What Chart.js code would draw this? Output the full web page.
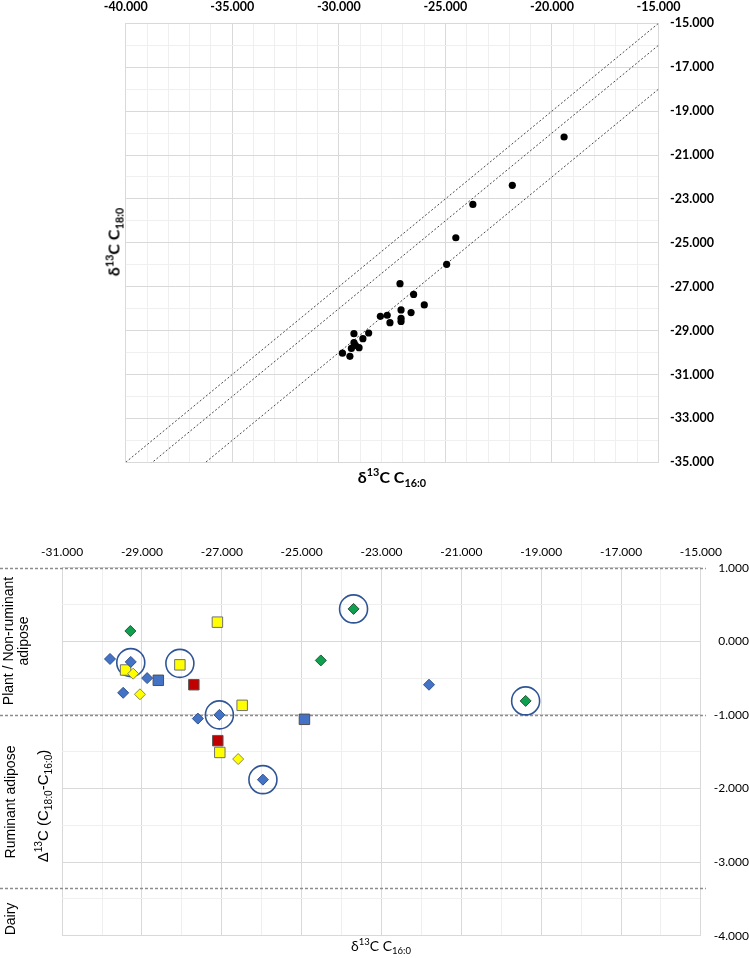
<!DOCTYPE html>
<html>
<head>
<meta charset="utf-8">
<script src="https://cdn.jsdelivr.net/npm/chart.js@4.4.1/dist/chart.umd.min.js"></script>
<style>
  html, body { margin:0; padding:0; background:#fff; }
  #wrap { position:relative; width:749px; height:958px; overflow:hidden; }
  canvas { position:absolute; left:0; }
  .lbl { position:absolute; white-space:nowrap; transform:translate(-50%,-50%); color:#000; line-height:1; text-align:center; }
  .rot { transform:translate(-50%,-50%) rotate(-90deg); }
  .b { font:bold 16px Lato, "Noto Sans", sans-serif; }
  .a { font:14px "Liberation Sans", Arial, sans-serif; }
  .c { font:14px Lato, "Noto Sans", sans-serif; }
  sup, sub { font-size:68%; line-height:0; }
</style>
</head>
<body>
<div id="wrap">
  <canvas id="c1" width="749" height="495" style="top:0"></canvas>
  <canvas id="c2" width="749" height="463" style="top:495px"></canvas>

  <div class="lbl rot b" style="left:113px;top:242px">δ<sup>13</sup>C C<sub>18:0</sub></div>
  <div class="lbl b" style="left:392px;top:476px">δ<sup>13</sup>C C<sub>16:0</sub></div>

  <div class="lbl rot a" style="left:16px;top:641px;line-height:15px">Plant / Non-ruminant<br>adipose</div>
  <div class="lbl rot a" style="left:10px;top:802px">Ruminant adipose</div>
  <div class="lbl rot a" style="left:10px;top:919px">Dairy</div>
  <div class="lbl rot a" style="left:42px;top:806px;font-size:15px">Δ<sup>13</sup>C (C<sub>18:0</sub>-C<sub>16:0</sub>)</div>
  <div class="lbl c" style="left:381px;top:945px">δ<sup>13</sup>C C<sub>16:0</sub></div>
</div>

<script>
/* ── chart 1: δ13C C18:0 vs δ13C C16:0 ── */
const c16 = [-19.43,-21.86,-23.71,-24.51,-24.94,-27.13,-26.49,-25.99,-27.08,-26.61,-28.05,-27.73,
             -27.08,-27.60,-27.08,-29.29,-28.60,-28.87,-29.29,-29.22,-29.41,-29.05,-29.83,-29.48];
const c18 = [-20.18,-22.38,-23.25,-24.77,-25.98,-26.86,-27.35,-27.83,-28.06,-28.18,-28.35,-28.30,
             -28.44,-28.64,-28.58,-29.14,-29.11,-29.37,-29.55,-29.67,-29.81,-29.78,-30.03,-30.17];
const refX     = [-40, -15];
const refUpper = [-35, -15];
const refMid   = [-36, -16];
const refLow   = [-38, -18];

/* ── chart 2: Δ13C vs δ13C C16:0 ── */
const blueDiaX   = [-29.80,-29.28,-28.87,-29.47,-27.60,-27.06,-25.97,-21.81];
const blueDiaY   = [-0.24,-0.28,-0.50,-0.70,-1.05,-1.00,-1.88,-0.59];
const greenDiaX  = [-29.29,-23.70,-24.52,-19.39];
const greenDiaY  = [0.14,0.44,-0.26,-0.81];
const yellowDiaX = [-29.22,-29.05,-26.59];
const yellowDiaY = [-0.44,-0.72,-1.60];
const yellowSqX  = [-27.11,-29.41,-28.05,-26.49,-27.05];
const yellowSqY  = [0.26,-0.39,-0.32,-0.87,-1.51];
const blueSqX    = [-28.59,-24.93];
const blueSqY    = [-0.53,-1.06];
const redSqX     = [-27.70,-27.10];
const redSqY     = [-0.59,-1.35];
const circledX   = [-29.28,-28.05,-27.06,-25.97,-23.70,-19.39];
const circledY   = [-0.29,-0.30,-1.00,-1.88,0.44,-0.81];
const zoneBounds = [1, -1, -3.35];

const MAJ = '#d9d9d9', MIN = '#efefef';
const FONT = 'Lato, "Noto Sans", sans-serif';
const pts = (xs, ys) => xs.map((x, i) => ({ x, y: ys[i] }));
const near = (a, b) => Math.abs(a - b) < 1e-6;
const every = (v, base, step) => near(((v - base) / step), Math.round((v - base) / step));

function axis(pos, min, max, step, labelStep, size, pad, bold, fit, align) {
  const major = v => every(v, min, labelStep);
  return {
    type:'linear', position:pos, min, max,
    border:{ display:true, color:MAJ },
    grid:{ drawTicks:false, color:c => major(c.tick.value) ? MAJ : MIN },
    ticks:{ stepSize:step, autoSkip:false, maxRotation:0, padding:pad, color:'#000',
            crossAlign:align || 'near',
            font:{ family:FONT, size, weight: bold ? 'bold' : 'normal' },
            callback:v => major(v) ? v.toFixed(3) : '' },
    afterFit:fit
  };
}

function refLine(ys) {
  return { data:pts(refX, ys), showLine:true, borderColor:'#4a4a4a', borderWidth:1,
           borderDash:[2,2], pointRadius:0, fill:false };
}

new Chart(document.getElementById('c1'), {
  type:'scatter',
  data:{ datasets:[
    { data:pts(c16, c18), pointRadius:3.6, pointBackgroundColor:'#000', pointBorderWidth:0 },
    refLine(refUpper), refLine(refMid), refLine(refLow)
  ]},
  options:{
    responsive:false, animation:false,
    layout:{ padding:{ left:125.7, right:0, top:0, bottom:32.7 } },
    plugins:{ legend:{ display:false }, tooltip:{ enabled:false } },
    scales:{
      x:axis('top', -40, -15, 1, 5, 12.5, 8.5, true, s => { s.height = 23.3; }),
      y:axis('right', -35, -15, 1, 2, 12.5, 11.5, true, s => { s.width = 90.5; })
    }
  }
});

/* dashed zone separators, running past the plot on both sides */
const zonePlugin = {
  id:'zones',
  beforeDatasetsDraw(chart) {
    const { ctx, chartArea, scales } = chart;
    ctx.save();
    ctx.strokeStyle = '#8c8c8c';
    ctx.lineWidth = 1.5;
    ctx.setLineDash([3, 2]);
    zoneBounds.forEach(v => {
      const y = Math.round(scales.y.getPixelForValue(v)) + 0.5;
      ctx.beginPath();
      ctx.moveTo(0, y);
      ctx.lineTo(chartArea.right + 5, y);
      ctx.stroke();
    });
    ctx.restore();
  }
};

const mk = (xs, ys, style, r, fill, edge) => ({
  data:pts(xs, ys), pointStyle:style, pointRadius:r,
  pointBackgroundColor:fill, pointBorderColor:edge, pointBorderWidth:1
});

new Chart(document.getElementById('c2'), {
  type:'scatter',
  data:{ datasets:[
    mk(blueDiaX, blueDiaY, 'rectRot', 5.5, '#4472c4', '#2f528f'),
    mk(greenDiaX, greenDiaY, 'rectRot', 5.5, '#0fa04f', '#225a35'),
    mk(yellowDiaX, yellowDiaY, 'rectRot', 5.5, '#ffff00', '#8a8a50'),
    mk(yellowSqX, yellowSqY, 'rect', 7.4, '#ffff00', '#6f6f6f'),
    mk(blueSqX, blueSqY, 'rect', 7.4, '#4472c4', '#4f4f4f'),
    mk(redSqX, redSqY, 'rect', 7.4, '#c00000', '#5a5a5a'),
    { data:pts(circledX, circledY), pointStyle:'circle', pointRadius:14,
      pointBackgroundColor:'rgba(0,0,0,0)', pointBorderColor:'#2f5597', pointBorderWidth:1.6 }
  ]},
  options:{
    responsive:false, animation:false,
    layout:{ padding:{ left:62.1, right:0, top:0, bottom:22.3 } },
    plugins:{ legend:{ display:false }, tooltip:{ enabled:false } },
    scales:{
      x:axis('top', -31, -15, 1, 2, 12, 8.8, false, s => { s.height = 72.7; }),
      y:axis('right', -4, 1, 0.5, 1, 12, 10.5, false, s => { s.width = 48.1; }, 'far')
    }
  },
  plugins:[zonePlugin]
});
</script>
</body>
</html>
